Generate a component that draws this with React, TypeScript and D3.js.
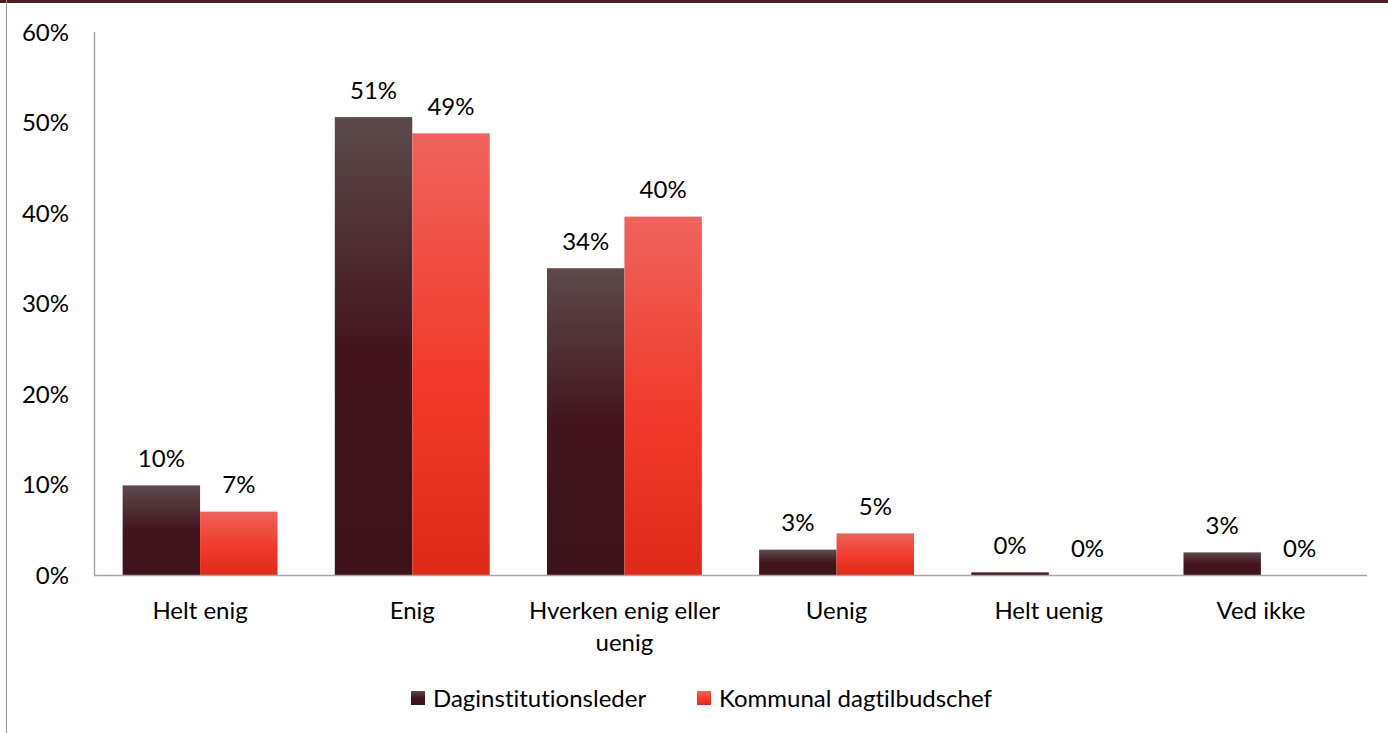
import { useEffect, useRef } from "react";
import * as d3 from "d3";

const categories = ["Helt enig", "Enig", "Hverken enig eller uenig", "Uenig", "Helt uenig", "Ved ikke"];
const categoryLines = [["Helt enig"], ["Enig"], ["Hverken enig eller", "uenig"], ["Uenig"], ["Helt uenig"], ["Ved ikke"]];
const seriesNames = ["Daginstitutionsleder", "Kommunal dagtilbudschef"];
const lederValues = [9.9, 50.6, 33.9, 2.8, 0.3, 2.5];
const chefValues = [7.0, 48.8, 39.6, 4.6, 0, 0];
const lederLabels = ["10%", "51%", "34%", "3%", "0%", "3%"];
const chefLabels = ["7%", "49%", "40%", "5%", "0%", "0%"];
const yTicks = [0, 10, 20, 30, 40, 50, 60];

const W = 1388;
const H = 733;
const FONT = "Lato, 'Open Sans', sans-serif";
const FS = 24;

export default function App() {
  const ref = useRef<SVGSVGElement | null>(null);

  useEffect(() => {
    const svgEl = ref.current;
    if (!svgEl) return;
    const svg = d3.select(svgEl);
    svg.selectAll("*").remove();
    svg.style("font-family", FONT).style("font-variant-ligatures", "none");

    const left = 94, right = 1367, top = 32, bottom = 575;

    const defs = svg.append("defs");
    const grads = [
      { id: "g-leder", stops: [["0", "#5c4a4b"], ["0.5", "#43161f"], ["1", "#3d121a"]] },
      { id: "g-chef", stops: [["0", "#ee635c"], ["0.55", "#f13a2b"], ["1", "#e02a18"]] },
    ];
    grads.forEach((g) => {
      const lg = defs.append("linearGradient").attr("id", g.id)
        .attr("x1", 0).attr("y1", 0).attr("x2", 0).attr("y2", 1);
      g.stops.forEach(([o, c]) => lg.append("stop").attr("offset", o).attr("stop-color", c));
    });

    // frame bits
    svg.append("rect").attr("x", 0).attr("y", 0).attr("width", W).attr("height", 3).attr("fill", "#4a1c25");
    svg.append("line").attr("x1", 6.5).attr("x2", 6.5).attr("y1", 0).attr("y2", H)
      .attr("stroke", "#9a9a9a").attr("stroke-width", 1);

    const y = d3.scaleLinear().domain([0, 60]).range([bottom, top]);
    const x0 = d3.scaleBand<string>().domain(categories).range([left, right])
      .paddingInner(0.27).paddingOuter(0.135);
    const x1 = d3.scaleBand<number>().domain([0, 1]).range([0, x0.bandwidth()]).padding(0);

    // y axis
    svg.append("line").attr("x1", left + 0.5).attr("x2", left + 0.5).attr("y1", top).attr("y2", bottom)
      .attr("stroke", "#a6a6a6").attr("stroke-width", 1.5);
    svg.append("g").selectAll("text").data(yTicks).join("text")
      .attr("x", 69).attr("y", (d) => y(d)).attr("dy", "0.36em")
      .attr("text-anchor", "end").attr("font-size", FS).attr("fill", "#000")
      .text((d) => `${d}%`);

    const series = [
      { vals: lederValues, labels: lederLabels, fill: "url(#g-leder)" },
      { vals: chefValues, labels: chefLabels, fill: "url(#g-chef)" },
    ];

    series.forEach((s, si) => {
      const g = svg.append("g");
      g.selectAll("rect").data(categories).join("rect")
        .attr("x", (c) => (x0(c) ?? 0) + (x1(si) ?? 0))
        .attr("width", x1.bandwidth())
        .attr("y", (_c, i) => y(s.vals[i]))
        .attr("height", (_c, i) => bottom - y(s.vals[i]))
        .attr("fill", s.fill);
      g.selectAll("text").data(categories).join("text")
        .attr("x", (c) => (x0(c) ?? 0) + (x1(si) ?? 0) + x1.bandwidth() / 2)
        .attr("y", (_c, i) => y(s.vals[i]) - 27)
        .attr("dy", "0.36em")
        .attr("text-anchor", "middle").attr("font-size", FS).attr("fill", "#000")
        .text((_c, i) => s.labels[i]);
    });

    // baseline
    svg.append("line").attr("x1", left).attr("x2", right).attr("y1", bottom + 0.5).attr("y2", bottom + 0.5)
      .attr("stroke", "#a6a6a6").attr("stroke-width", 1.5);

    // category labels
    const cl = svg.append("g");
    categories.forEach((c, i) => {
      const cx = (x0(c) ?? 0) + x0.bandwidth() / 2;
      categoryLines[i].forEach((line, li) => {
        cl.append("text").attr("x", cx).attr("y", 610 + li * 32).attr("dy", "0.36em")
          .attr("text-anchor", "middle").attr("font-size", FS).attr("fill", "#000").text(line);
      });
    });

    // legend
    const legendItems = [
      { x: 411, name: seriesNames[0], fill: "url(#g-leder)" },
      { x: 697, name: seriesNames[1], fill: "url(#g-chef)" },
    ];
    const lg = svg.append("g");
    legendItems.forEach((it) => {
      lg.append("rect").attr("x", it.x).attr("y", 691).attr("width", 14).attr("height", 14).attr("fill", it.fill);
      lg.append("text").attr("x", it.x + 22).attr("y", 698).attr("dy", "0.36em")
        .attr("font-size", FS).attr("fill", "#000").text(it.name);
    });
  }, []);

  return (
    <svg ref={ref} width={W} height={H} style={{ position: "absolute", left: 0, top: 0, display: "block" }} />
  );
}
